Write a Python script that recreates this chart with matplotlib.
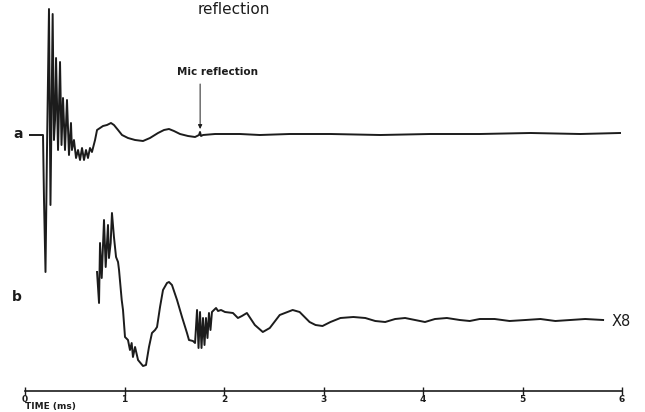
import matplotlib
matplotlib.use("Agg")
import matplotlib.pyplot as plt

# trace a: time (ms) and amplitude (arbitrary units, up is positive)
time_a = [0.05, 0.181, 0.191, 0.206, 0.221, 0.241, 0.256, 0.278, 0.291, 0.302,
          0.312, 0.332, 0.352, 0.367, 0.382, 0.402, 0.422, 0.442, 0.462, 0.472,
          0.492, 0.513, 0.533, 0.553, 0.573, 0.593, 0.613, 0.633, 0.653, 0.673,
          0.704, 0.724, 0.754, 0.784, 0.824, 0.864, 0.894, 0.935, 0.975, 1.035,
          1.106, 1.186, 1.256, 1.337, 1.397, 1.447, 1.497, 1.558, 1.638, 1.709,
          1.749, 1.759, 1.769, 1.789, 1.91, 2.16, 2.36, 2.66, 3.07, 3.57,
          4.07, 4.57, 5.08, 5.58, 5.98]
amp_a = [-1, -1, -66, -138, -16, 125, -71, 120, -6, 14,
         76, -16, 72, -11, 36, -16, 34, -21, 11, -16,
         -6, -24, -16, -26, -14, -26, -16, -24, -14, -18,
         -6, 4, 6, 8, 9, 11, 9, 4, -1, -4,
         -6, -7, -4, 1, 4, 5, 3, 0, -2, -3,
         -1, 2, -2, -1, 0, 0, -1, 0, 0, -1,
         0, 0, 1, 0, 1]

# trace b (shown x8)
time_b = [0.724, 0.744, 0.754, 0.771, 0.794, 0.811, 0.834, 0.844, 0.861, 0.874,
          0.894, 0.915, 0.935, 0.945, 0.972, 0.985, 1.005, 1.035, 1.055, 1.072,
          1.085, 1.106, 1.136, 1.186, 1.216, 1.246, 1.276, 1.307, 1.327, 1.357,
          1.387, 1.427, 1.447, 1.477, 1.528, 1.578, 1.628, 1.648, 1.688, 1.709,
          1.729, 1.744, 1.759, 1.774, 1.789, 1.804, 1.819, 1.834, 1.849, 1.864,
          1.879, 1.899, 1.92, 1.94, 1.97, 2.01, 2.09, 2.14, 2.18, 2.23,
          2.31, 2.39, 2.46, 2.56, 2.69, 2.76, 2.86, 2.92, 2.99, 3.07,
          3.17, 3.30, 3.42, 3.52, 3.62, 3.72, 3.82, 3.92, 4.02, 4.12,
          4.24, 4.37, 4.47, 4.57, 4.72, 4.87, 5.03, 5.18, 5.33, 5.48,
          5.63, 5.81]
amp_b = [48, 17, 77, 42, 100, 53, 95, 62, 77, 107,
         83, 63, 58, 50, 20, 10, -17, -20, -30, -23,
         -37, -27, -40, -46, -45, -27, -13, -10, -7, 13,
         30, 37, 38, 35, 20, 3, -13, -20, -21, -23,
         10, -28, 8, -28, 2, -25, 2, -18, 7, -10,
         8, 10, 12, 9, 10, 8, 7, 2, 4, 7,
         -5, -12, -8, 5, 10, 8, -2, -5, -6, -2,
         2, 3, 2, -1, -2, 1, 2, 0, -2, 1,
         2, 0, -1, 1, 1, -1, 0, 1, -1, 0,
         1, 0]

time_ticks = [0, 1, 2, 3, 4, 5, 6]
mic_reflection_time = 1.76

ink = "#1c1c1c"
fig = plt.figure(figsize=(6.45, 4.12), dpi=100)
ax = fig.add_axes([0, 0, 1, 1])
ax.set_xlim(-25 / 99.5, 620 / 99.5)
ax.set_ylim(412, 0)
ax.axis("off")

base_a, base_b = 134, 320
ax.plot(time_a, [base_a - v for v in amp_a], color=ink, lw=1.4)
ax.plot(time_b, [base_b - v for v in amp_b], color=ink, lw=1.4)

ax.text(-0.07, base_a, "a", fontsize=10, fontweight="bold", ha="center", va="center", color=ink)
ax.text(-0.08, 297, "b", fontsize=10, fontweight="bold", ha="center", va="center", color=ink)
ax.text(5.99, 322, "X8", fontsize=10.5, ha="center", va="center", color=ink)

# labels near the top
ax.text(2.1, 14, "reflection", fontsize=11, ha="center", va="baseline", color=ink)
ax.text(1.93, 72, "Mic reflection", fontsize=7.5, fontweight="bold",
        ha="center", va="center", color=ink)
ax.annotate("", xy=(mic_reflection_time, 129), xytext=(mic_reflection_time, 84),
            arrowprops=dict(arrowstyle="-|>", color=ink, lw=0.7, mutation_scale=6,
                            shrinkA=0, shrinkB=0))

ax.text(0, 407, "TIME (ms)", fontsize=6.5, fontweight="bold", ha="left", va="center", color=ink)

# time axis
tax = fig.add_axes([0, 21 / 412, 1, 0.001])
tax.set_xlim(ax.get_xlim())
for side in ["top", "left", "right"]:
    tax.spines[side].set_visible(False)
tax.spines["bottom"].set_bounds(0, 6)
tax.spines["bottom"].set_color(ink)
tax.spines["bottom"].set_linewidth(1.2)
tax.set_yticks([])
tax.set_xticks(time_ticks)
tax.set_xticklabels([str(t) for t in time_ticks], fontsize=6.5, fontweight="bold")
tax.tick_params(axis="x", direction="inout", length=6, width=1, color=ink,
                labelcolor=ink, pad=0)
tax.patch.set_visible(False)

fig.savefig("out.png", dpi=100)
